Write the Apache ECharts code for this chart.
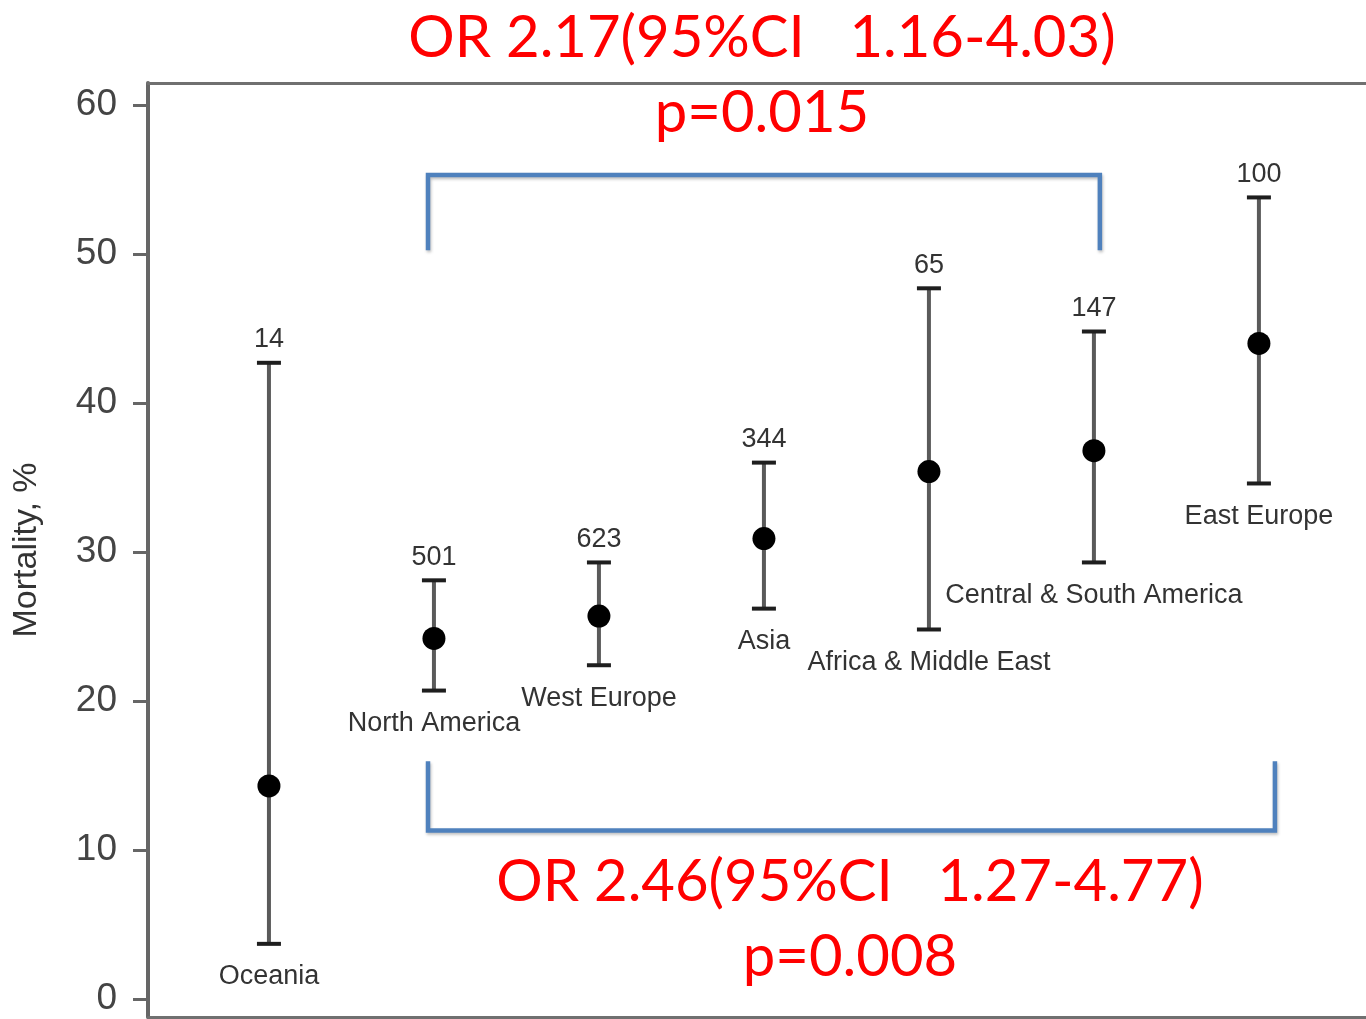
<!DOCTYPE html>
<html>
<head>
<meta charset="utf-8">
<script src="https://cdn.jsdelivr.net/npm/echarts@6/dist/echarts.min.js"></script>
<style>
html,body{margin:0;padding:0;background:#fff;}
#chart{width:1366px;height:1019px;}
</style>
</head>
<body>
<div id="chart"></div>
<script>
const regions = ['Oceania', 'North America', 'West Europe', 'Asia', 'Africa & Middle East', 'Central & South America', 'East Europe'];
const sampleSizes = [14, 501, 623, 344, 65, 147, 100];
const mortality = [14.3, 24.2, 25.7, 30.9, 35.4, 36.8, 44.0];
const ciLower = [3.7, 20.7, 22.4, 26.2, 24.8, 29.3, 34.6];
const ciUpper = [42.7, 28.1, 29.3, 36.0, 47.7, 44.8, 53.8];
const yTicks = [0, 10, 20, 30, 40, 50, 60];

const topText = ['OR 2.17(95%CI   1.16-4.03)', 'p=0.015'];
const bottomText = ['OR 2.46(95%CI   1.27-4.77)', 'p=0.008'];

const chart = echarts.init(document.getElementById('chart'));

function errorBar(params, api) {
  const i = params.dataIndex;
  const x = api.value(0);
  const pLo = api.coord([x, api.value(1)]);
  const pHi = api.coord([x, api.value(2)]);
  const cap = 12;
  const txt = {fontFamily: 'Liberation Sans, Arial, sans-serif', fill: '#333'};
  return {
    type: 'group',
    children: [
      {type: 'line', shape: {x1: pLo[0], y1: pLo[1], x2: pHi[0], y2: pHi[1]}, style: {stroke: '#5a5a5a', lineWidth: 4}},
      {type: 'line', shape: {x1: pLo[0] - cap, y1: pLo[1], x2: pLo[0] + cap, y2: pLo[1]}, style: {stroke: '#1e1e1e', lineWidth: 4}},
      {type: 'line', shape: {x1: pHi[0] - cap, y1: pHi[1], x2: pHi[0] + cap, y2: pHi[1]}, style: {stroke: '#1e1e1e', lineWidth: 4}},
      {type: 'text', x: pHi[0], y: pHi[1] - 23, style: Object.assign({text: String(sampleSizes[i]), align: 'center', verticalAlign: 'middle', fontSize: 27}, txt)},
      {type: 'text', x: pLo[0], y: pLo[1] + 33, style: Object.assign({text: regions[i], align: 'center', verticalAlign: 'middle', fontSize: 27}, txt)}
    ]
  };
}

const pad1 = 0.036, pad2 = 0.097;
const topBracket = [[1 - pad1, 50.4], [1 - pad1, 55.3], [5 + pad1, 55.3], [5 + pad1, 50.4]];
const bottomBracket = [[1 - pad1, 15.8], [1 - pad1, 11.3], [6 + pad2, 11.3], [6 + pad2, 15.8]];

const bracketStyle = {color: '#4f81bd', width: 4.5, shadowColor: 'rgba(0,0,0,0.25)', shadowBlur: 3, shadowOffsetY: 2, shadowOffsetX: 1, cap: 'square', join: 'miter'};
const redFont = {fontFamily: 'Lato, Open Sans, sans-serif', fill: '#ff0000', fontSize: 58, align: 'center', verticalAlign: 'middle'};
const frameLine = {show: true, onZero: false, lineStyle: {color: '#707070', width: 3}};

chart.setOption({
  animation: false,
  backgroundColor: '#fff',
  grid: {left: 148, right: 0, top: 83, bottom: 2},
  xAxis: [
    {type: 'value', position: 'bottom', min: -0.733, max: 6.649, axisLine: frameLine, axisTick: {show: false}, axisLabel: {show: false}, splitLine: {show: false}},
    {type: 'value', position: 'top', min: -0.733, max: 6.649, axisLine: frameLine, axisTick: {show: false}, axisLabel: {show: false}, splitLine: {show: false}}
  ],
  yAxis: {
    type: 'value', min: -1.21, max: 61.48,
    name: 'Mortality, %', nameLocation: 'middle', nameGap: 104, nameRotate: 90,
    nameTextStyle: {fontSize: 34, color: '#333', fontFamily: 'Liberation Sans, Arial, sans-serif'},
    axisLine: {show: true, onZero: false, lineStyle: {color: '#666', width: 4}},
    axisTick: {show: true, customValues: yTicks, length: 15, lineStyle: {color: '#666', width: 3}},
    axisLabel: {customValues: yTicks, margin: 31, fontSize: 37, color: '#444', fontFamily: 'Liberation Sans, Arial, sans-serif'},
    splitLine: {show: false}
  },
  series: [
    {type: 'line', data: topBracket, showSymbol: false, symbol: 'none', lineStyle: bracketStyle, silent: true, z: 1},
    {type: 'line', data: bottomBracket, showSymbol: false, symbol: 'none', lineStyle: bracketStyle, silent: true, z: 1},
    {type: 'custom', renderItem: errorBar, data: regions.map((r, i) => [i, ciLower[i], ciUpper[i]]), z: 2, silent: true},
    {type: 'scatter', data: mortality.map((v, i) => [i, v]), symbolSize: 23, itemStyle: {color: '#000', opacity: 1}, z: 3, silent: true}
  ],
  graphic: [
    {type: 'text', x: 762, y: 38, style: Object.assign({text: topText[0]}, redFont)},
    {type: 'text', x: 762, y: 113, style: Object.assign({text: topText[1]}, redFont)},
    {type: 'text', x: 850, y: 882, style: Object.assign({text: bottomText[0]}, redFont)},
    {type: 'text', x: 850, y: 957, style: Object.assign({text: bottomText[1]}, redFont)}
  ]
});
</script>
</body>
</html>
